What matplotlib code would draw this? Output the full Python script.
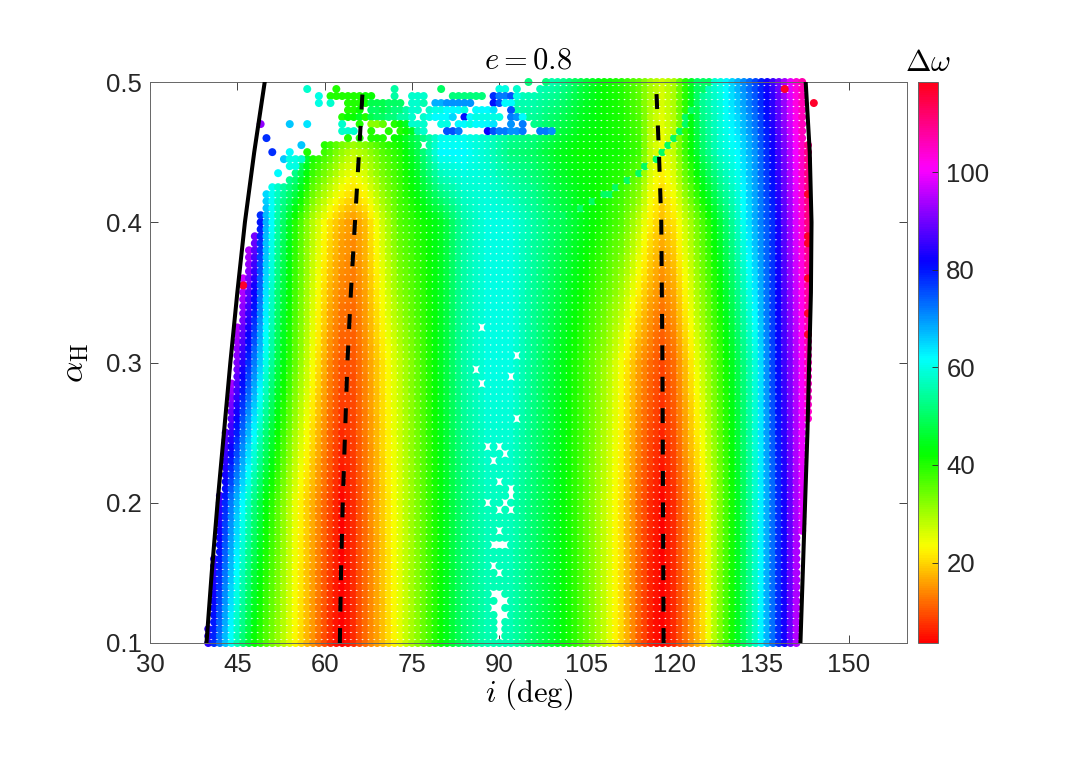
import numpy as np
import matplotlib
matplotlib.use("Agg")
import matplotlib.pyplot as plt

plt.rcParams['font.family'] = ['Liberation Sans', 'DejaVu Sans']
plt.rcParams['mathtext.fontset'] = 'cm'

# Delta omega, at fixed inclination columns for a few alpha rows
tab_i = [40, 42, 44, 46, 48, 50, 52, 55, 58, 61, 63, 65, 67, 70, 73, 76, 80, 84, 88,
         92, 96, 100, 104, 108, 111, 114, 116, 118, 120, 122, 125, 128, 131, 134, 137,
         139, 141, 143, 144]
tab_a = [0.10, 0.20, 0.30, 0.40, 0.45, 0.50]
dw_a010 = [84, 72, 61, 51, 42, 36, 31, 23, 15, 7, 3, 7, 12, 18, 25, 32, 42, 51, 56,
           56, 50, 45, 37, 28, 20, 11, 6, 3, 7, 12, 20, 33, 45, 57, 73, 83, 95, 100, 100]
dw_a020 = [95, 85, 72, 62, 52, 43, 36, 25, 17, 9, 4, 7, 12, 19, 26, 33, 43, 52, 57,
           57, 51, 45, 37, 28, 21, 12, 7, 4, 7, 13, 21, 33, 45, 58, 73, 83, 94, 102, 102]
dw_a030 = [100, 100, 98, 84, 72, 60, 48, 35, 24, 14, 10, 10, 14, 21, 28, 35, 45, 55, 60,
           60, 53, 46, 39, 31, 24, 16, 12, 9, 12, 18, 28, 38, 48, 59, 76, 86, 95, 106, 110]
dw_a040 = [105, 105, 105, 105, 92, 68, 55, 40, 29, 21, 17, 15, 18, 27, 36, 40, 45, 55, 60,
           60, 55, 50, 45, 40, 36, 28, 22, 18, 21, 27, 37, 47, 57, 68, 78, 88, 98, 110, 112]
dw_a045 = [60, 60, 60, 60, 60, 60, 60, 58, 42, 36, 31, 28, 30, 36, 40, 48, 62, 62, 58,
           52, 50, 45, 42, 42, 41, 38, 28, 24, 28, 38, 50, 58, 62, 70, 82, 90, 100, 110, 112]
dw_a050 = [55, 55, 55, 55, 55, 55, 55, 55, 55, 55, 55, 55, 55, 55, 55, 55, 55, 55, 58,
           58, 58, 55, 48, 42, 40, 35, 30, 27, 30, 40, 55, 60, 68, 76, 86, 94, 104, 110, 112]

# where the filled area of dots starts / ends on each row
fill_a = [0.10, 0.15, 0.20, 0.25, 0.30, 0.35, 0.38, 0.40, 0.42, 0.425, 0.43, 0.435,
          0.44, 0.445, 0.45, 0.455, 0.46, 0.465, 0.47, 0.475, 0.48, 0.485, 0.49, 0.495, 0.50]
fill_left = [39.8, 40.8, 41.8, 43.0, 44.4, 45.6, 46.8, 48.6, 49.8, 50.8, 53.8, 54.8,
             55.8, 56.8, 59.8, 59.8, 71.8, 97.8, 95.8, 94.8, 92.8, 92.8, 93.8, 96.8, 98.8]
edge_a = [0.10, 0.20, 0.27, 0.45, 0.48, 0.50]
edge_right = [141.2, 142.2, 143.2, 143.2, 142.2, 142.2]

# thin cyan arc in the upper middle
arc_a = [0.400, 0.420, 0.434, 0.446, 0.453, 0.467, 0.479, 0.493, 0.500]
arc_i = [98.8, 108.5, 113.7, 117.1, 118.8, 121.1, 122.8, 124.6, 125.5]
arc_dw = 50

# grid points with no dot (white crosses near i = 90)
gap_i = [87, 93, 86, 92, 87, 93, 88, 90, 91, 89, 90, 92, 92, 88, 91, 90, 92, 90, 89, 90,
         91, 89, 90, 89, 90, 90, 91, 89, 90, 90, 91, 90, 90, 90, 77]
gap_a = [0.325, 0.305, 0.295, 0.29, 0.285, 0.26, 0.24, 0.24, 0.235, 0.23, 0.215, 0.21,
         0.205, 0.2, 0.2, 0.195, 0.195, 0.18, 0.17, 0.17, 0.17, 0.155, 0.15, 0.135, 0.135,
         0.13, 0.13, 0.125, 0.125, 0.12, 0.12, 0.115, 0.11, 0.105, 0.455]

# scattered dots in the top left corner (alpha, [(i, dw), ...])
sparse_rows = [
    (0.500, [(95, 52), (98, 52)]),
    (0.495, [(57, 58), (62, 40), (72, 55), (80, 50), (90, 60), (91, 60), (93, 58)]),
    (0.490, [(59, 60), (61, 40), (62, 40), (63, 40), (64, 40), (65, 40), (66, 40), (67, 42),
             (68, 42), (72, 55), (75, 58), (76, 58), (77, 58), (82, 52), (83, 52), (84, 52),
             (85, 52), (86, 52), (87, 52), (89, 78), (90, 72), (91, 72), (92, 75), (93, 60)]),
    (0.485, [(59, 60), (61, 58), (64, 40), (65, 40), (66, 40), (67, 42), (68, 48), (69, 48),
             (70, 48), (71, 50), (72, 50), (73, 50), (75, 58), (76, 58), (77, 56), (79, 68),
             (80, 68), (81, 70), (82, 70), (83, 70), (84, 70), (85, 70), (89, 80), (90, 75),
             (91, 62), (92, 62)]),
    (0.480, [(64, 40), (65, 40), (66, 42), (68, 50), (69, 50), (70, 48), (71, 50), (72, 52),
             (73, 52), (74, 55), (75, 58), (76, 58), (78, 58), (79, 60), (80, 60), (81, 62),
             (82, 62), (83, 62), (84, 60), (86, 62), (87, 62), (88, 62), (89, 64), (92, 75)]),
    (0.475, [(63, 40), (64, 42), (65, 42), (66, 45), (67, 40), (68, 48), (69, 50), (70, 50),
             (71, 52), (72, 52), (73, 55), (74, 55), (75, 58), (77, 58), (78, 60), (79, 62),
             (80, 62), (81, 62), (82, 65), (84, 80), (85, 62), (86, 60), (87, 60), (88, 60),
             (89, 60), (90, 60), (92, 72), (93, 70), (94, 62)]),
    (0.470, [(49, 92), (54, 66), (57, 64), (63, 58), (66, 40), (68, 32), (69, 32), (70, 35),
             (72, 40), (73, 42), (74, 45), (75, 58), (76, 58), (77, 58), (80, 60), (81, 60),
             (83, 62), (84, 62), (85, 60), (86, 62), (87, 62), (88, 62), (89, 64), (92, 70),
             (94, 72)]),
    (0.465, [(63, 58), (64, 58), (65, 58), (68, 40), (71, 40), (73, 40), (74, 42), (75, 45),
             (76, 55), (77, 58), (81, 75), (82, 75), (83, 72), (88, 82), (89, 75), (90, 72),
             (91, 72), (92, 70), (93, 70), (94, 72), (97, 72), (98, 72), (99, 70)]),
    (0.460, [(50, 78), (64, 40), (66, 40), (68, 40), (69, 40), (70, 40)]),
    (0.455, [(56, 66)]),
    (0.450, [(51, 78), (54, 62), (57, 40)]),
    (0.445, [(53, 66), (54, 60), (55, 60), (56, 58)]),
    (0.440, [(54, 60), (55, 60)]),
    (0.435, [(52, 62)]),
]

# red dots along the outer edges
red_i = [143, 143, 143, 143, 143, 143, 144, 46, 139]
red_a = [0.32, 0.335, 0.36, 0.385, 0.39, 0.42, 0.485, 0.355, 0.495]
red_dw = 117

# boundary curves
line_a = [0.10, 0.15, 0.20, 0.25, 0.30, 0.35, 0.40, 0.45, 0.50]
solid_left = [39.7, 40.6, 41.6, 42.7, 43.8, 45.0, 46.3, 47.9, 49.7]
solid_right = [141.7, 142.1, 142.5, 142.9, 143.2, 143.5, 143.6, 143.3, 142.6]
dash_left = [62.6, 62.8, 63.1, 63.5, 63.9, 64.5, 65.2, 65.9, 66.6]
dash_right = [118.2, 118.15, 118.1, 118.05, 118.0, 117.9, 117.8, 117.4, 116.9]

# Build the dots
tab_dw = [dw_a010, dw_a020, dw_a030, dw_a040, dw_a045, dw_a050]
grid_i = np.arange(40, 145)
grid_a = np.round(np.arange(0.1, 0.5001, 0.005), 3)
missing = set((int(i), round(a, 3)) for i, a in zip(gap_i, gap_a))

pts_i, pts_a, pts_dw = [], [], []
for a in grid_a:
    lo = np.interp(a, fill_a, fill_left)
    hi = np.interp(a, edge_a, edge_right)
    j = min(np.searchsorted(tab_a, a, side='right') - 1, len(tab_a) - 2)
    w = (a - tab_a[j]) / (tab_a[j + 1] - tab_a[j])
    row = (1 - w) * np.interp(grid_i, tab_i, tab_dw[j]) + w * np.interp(grid_i, tab_i, tab_dw[j + 1])
    ic = np.interp(a, arc_a, arc_i) if a >= arc_a[0] else None
    for i, v in zip(grid_i, row):
        if i < lo or i > hi or (int(i), round(a, 3)) in missing:
            continue
        if ic is not None and abs(i - ic) <= 0.5:
            v = arc_dw
        pts_i.append(i)
        pts_a.append(a)
        pts_dw.append(v)

for a, dots in sparse_rows:
    for i, v in dots:
        pts_i.append(i)
        pts_a.append(a)
        pts_dw.append(v)

for i, a in zip(red_i, red_a):
    pts_i.append(i)
    pts_a.append(a)
    pts_dw.append(red_dw)

# Plot
fig = plt.figure(figsize=(10.8, 7.63), dpi=100)
ax = fig.add_axes([150 / 1080, 120 / 763, 757 / 1080, 561 / 763])

sc = ax.scatter(pts_i, pts_a, c=pts_dw, cmap='hsv', vmin=3.5, vmax=118.5,
                s=33, linewidths=0, clip_on=False, zorder=2)

dash = (0, (3.7, 4.1))
ax.plot(solid_left, line_a, color='k', lw=2.9, zorder=3)
ax.plot(solid_right, line_a, color='k', lw=2.9, zorder=3)
ax.plot(dash_left, line_a, color='k', lw=2.9, linestyle=dash, zorder=3)
ax.plot(dash_right, line_a, color='k', lw=2.9, linestyle=dash, zorder=3)

ax.set_xlim(30, 160)
ax.set_ylim(0.1, 0.5)
ax.set_xticks(np.arange(30, 151, 15))
ax.set_yticks([0.1, 0.2, 0.3, 0.4, 0.5])
ax.set_yticklabels(['0.1', '0.2', '0.3', '0.4', '0.5'])
ax.tick_params(direction='in', length=6, width=0.6, top=True, right=True,
               labelsize=18.5, colors='#262626')
ax.tick_params(axis='x', pad=7)
ax.tick_params(axis='y', pad=6)
for sp in ax.spines.values():
    sp.set_color('#666666')
    sp.set_linewidth(0.7)

ax.set_title(r'$e = 0.8$', fontsize=22, pad=10)
ax.set_xlabel(r'$i\ (\mathrm{deg})$', fontsize=22, labelpad=0)
ax.set_ylabel(r'$\alpha_{\mathrm{H}}$', fontsize=24, labelpad=11)

cax = fig.add_axes([918 / 1080, 120 / 763, 20 / 1080, 561 / 763])
cb = fig.colorbar(sc, cax=cax)
cb.set_ticks([20, 40, 60, 80, 100])
cax.tick_params(direction='in', length=4, width=0.6, labelsize=18.5, colors='#262626', pad=6)
cb.outline.set_edgecolor('#666666')
cb.outline.set_linewidth(0.7)
cax.set_title(r'$\Delta\omega$', fontsize=22, pad=8)

fig.savefig('out.png', dpi=100)
